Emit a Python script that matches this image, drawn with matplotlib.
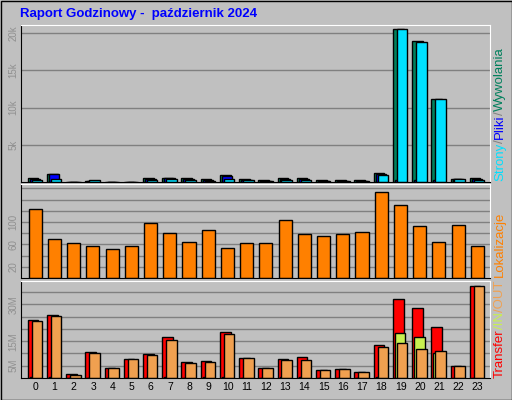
import numpy as np
import matplotlib.pyplot as plt

hours = list(range(24))
hits = [500, 1100, 50, 200, 50, 50, 500, 600, 500, 350, 900, 350, 250, 500, 500, 250, 250, 250,
        1200, 20600, 19000, 11200, 400, 500]
files = [450, 1050, 40, 150, 40, 40, 450, 550, 450, 300, 850, 300, 200, 450, 450, 200, 200, 200,
         1100, 300, 250, 250, 350, 450]
pages = [300, 400, 40, 300, 20, 20, 300, 400, 300, 200, 400, 250, 150, 300, 300, 150, 150, 150,
         1000, 20500, 18800, 11200, 400, 300]
sites = [123, 70, 62, 58, 51, 57, 98, 81, 65, 86, 53, 62, 63, 103, 79, 75, 79, 82,
         153, 130, 93, 65, 94, 58]
xfer = [23.5, 25.7, 1.8, 10.7, 3.9, 7.6, 9.7, 16.5, 6.5, 6.9, 18.6, 8.1, 3.9, 7.6, 8.5, 3.2, 3.5, 2.4,
        13.5, 32.2, 28.5, 20.6, 4.7, 37.6]
x_in = [0.3, 0.4, 0.1, 0.2, 0.1, 0.1, 0.2, 0.4, 0.2, 0.4, 0.4, 0.2, 0.1, 0.4, 0.6, 0.1, 0.1, 0.1,
        0.6, 18.5, 16.8, 10.1, 0.1, 0.2]
x_out = [23.1, 25.1, 1.4, 10.1, 3.9, 7.6, 9.3, 15.6, 6.0, 6.4, 18.1, 8.1, 3.9, 7.2, 7.2, 3.2, 3.5, 2.4,
         12.6, 14.3, 11.8, 11.0, 4.7, 37.6]

BG = '#c0c0c0'
W, H = 512, 400
fig = plt.figure(figsize=(5.12, 4.0), dpi=100, facecolor=BG)
plt.rcParams['font.family'] = ['Liberation Sans', 'DejaVu Sans']


def ax_px(x, y, w, h):
    ax = fig.add_axes([x / W, 1 - (y + h) / H, w / W, h / H], facecolor=BG)
    for s in ax.spines.values():
        s.set_color('black')
    ax.spines['top'].set_color('white')
    ax.spines['right'].set_color('white')
    ax.set_xlim(-0.75, 23.65)
    ax.set_xticks([])
    ax.tick_params(axis='y', length=0, labelsize=7, labelcolor='#909090', labelrotation=90, pad=2)
    ax.yaxis.grid(True, color='#808080', lw=1)
    ax.set_axisbelow(True)
    return ax


x = np.array(hours)
bw = 0.55
kw = dict(edgecolor='black', linewidth=1, width=bw, align='edge')

ax1 = ax_px(21, 25, 469, 157)
ax1.bar(x - 0.4, hits, color='#00805c', **kw)
ax1.bar(x - 0.3, files, color='#0000ff', **kw)
ax1.bar(x - 0.2, pages, color='#00e0ff', **kw)
ax1.set_ylim(0, 21100)
ax1.set_yticks([5000, 10000, 15000, 20000], ['5k', '10k', '15k', '20k'])

ax2 = ax_px(21, 184, 469, 94)
ax2.bar(x - 0.35, sites, color='#ff8000', edgecolor='black', linewidth=1, width=0.68, align='edge')
ax2.set_ylim(0, 168)
ax2.set_yticks(range(20, 161, 20), ['20', '', '60', '', '100', '', '', ''])

ax3 = ax_px(21, 281, 469, 97)
ax3.bar(x - 0.4, xfer, color='#ff0000', **kw)
ax3.bar(x - 0.3, x_in, color='#c8f050', **kw)
ax3.bar(x - 0.2, x_out, color='#f0a050', **kw)
ax3.set_ylim(0, 39.5)
ax3.set_yticks([5, 10, 15, 20, 25, 30, 35], ['5M', '', '15M', '', '', '30M', ''])

for ax in (ax1, ax2, ax3):
    for lab in ax.get_yticklabels():
        lab.set_va('center')

for h in hours:
    fig.text((21 + (h + 0.75) / 24.4 * 469) / W, 1 - 387 / H, str(h), ha='center', va='center',
             fontsize=7.5)

fig.text(20 / W, 1 - 14 / H, 'Raport Godzinowy -  październik 2024', color='#0000ff',
         fontsize=9.5, fontweight='bold', va='center')

renderer = fig.canvas.get_renderer()


def side(parts, x0, y0):
    # stack rotated pieces bottom to top using their measured heights
    y = y0
    for txt, col in parts:
        t = fig.text(x0 / W, 1 - y / H, txt, color=col, fontsize=9.5, rotation=90, ha='center',
                     va='bottom')
        y -= t.get_window_extent(renderer).height


side([('Strony', '#00e0ff'), ('/', '#808080'), ('Pliki', '#0000ff'),
      ('/', '#808080'), ('Wywolania', '#00805c')], 500, 181)
side([('Lokalizacje', '#ff8000')], 500, 277)
side([('Transfer', '#ff0000'), ('/IN', '#c8f050'), ('/OUT', '#f0a050')], 500, 378)

fig.patches.append(plt.Rectangle((0.5 / W, 0.5 / H), 1 - 1 / W, 1 - 1 / H, fill=False,
                                 edgecolor='black', lw=1, transform=fig.transFigure))
fig.savefig('out.png', dpi=100, facecolor=BG)
